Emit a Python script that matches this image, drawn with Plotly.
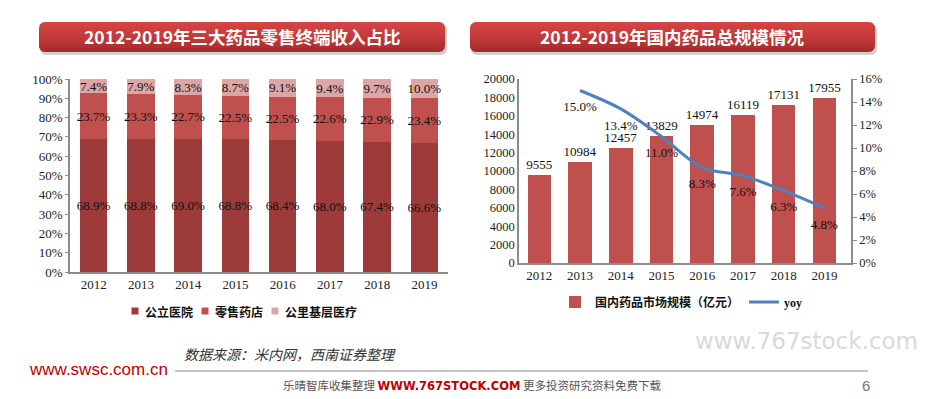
import numpy as np
import plotly.graph_objects as go

W, H = 926, 399
OFF = 8  # page body margin of the html page

# ---------------- data ----------------
years = ["2012", "2013", "2014", "2015", "2016", "2017", "2018", "2019"]
public_hosp = [68.9, 68.8, 69.0, 68.8, 68.4, 68.0, 67.4, 66.6]
retail_pharm = [23.7, 23.3, 22.7, 22.5, 22.5, 22.6, 22.9, 23.4]
primary_care = [7.4, 7.9, 8.3, 8.7, 9.1, 9.4, 9.7, 10.0]

market_size = [9555, 10984, 12457, 13829, 14974, 16119, 17131, 17955]
yoy_years = ["2013", "2014", "2015", "2016", "2017", "2018", "2019"]
yoy = [15.0, 13.4, 11.0, 8.3, 7.6, 6.3, 4.8]

left_title = "2012-2019年三大药品零售终端收入占比"
right_title = "2012-2019年国内药品总规模情况"
series_names = ["公立医院", "零售药店", "公里基层医疗"]
bar_name = "国内药品市场规模（亿元）"
line_name = "yoy"

SERIF = "Liberation Serif, Times New Roman, serif"
CJK = "Noto Sans CJK SC, sans-serif"


def px_x(x):
    return (x - OFF) / W


def px_y(y):
    return 1 - (y - OFF) / H


fig = go.Figure()

# ---------------- left chart ----------------
colors_left = ["#9C3B39", "#C0504D", "#DBA6A5"]
for vals, name, col in zip([public_hosp, retail_pharm, primary_care], series_names, colors_left):
    fig.add_trace(go.Bar(
        x=years, y=[v / 100 for v in vals], name=name,
        marker=dict(color=col, line=dict(width=0)),
        text=[f"{v:.1f}%" for v in vals], texttemplate="%{text}",
        textposition="inside", insidetextanchor="middle", textangle=0,
        constraintext="none",
        textfont=dict(family=SERIF, size=13, color="#111111"),
        xaxis="x", yaxis="y", showlegend=False, hoverinfo="skip",
    ))

# ---------------- right chart ----------------
fig.add_trace(go.Bar(
    x=years, y=market_size, name=bar_name,
    marker=dict(color="#C0504D", line=dict(width=0)),
    text=[str(v) for v in market_size], textposition="outside",
    constraintext="none", cliponaxis=False,
    textfont=dict(family=SERIF, size=13, color="#111111"),
    xaxis="x2", yaxis="y2", legend="legend2", hoverinfo="skip",
))
fig.add_trace(go.Scatter(
    x=yoy_years, y=[v / 100 for v in yoy],
    name=f'<span style="font-family:Liberation Serif">{line_name}</span>',
    mode="lines", line=dict(color="#4F81BD", width=3, shape="spline", smoothing=0.9),
    xaxis="x2", yaxis="y3", legend="legend2", hoverinfo="skip",
))
fig.add_trace(go.Scatter(
    x=yoy_years, y=[v / 100 for v in yoy], mode="markers+text",
    marker=dict(size=16, color="rgba(0,0,0,0)"),
    text=[f"{v:.1f}%" for v in yoy], textposition="bottom center",
    textfont=dict(family=SERIF, size=13, color="#111111"),
    showlegend=False, xaxis="x2", yaxis="y3", hoverinfo="skip", cliponaxis=False,
))

# ---------------- title boxes (decoration) ----------------
def rounded_rect(x0, y0, x1, y1, r, n=8):
    pts = []
    corners = [(x1 - r, y0 + r, -90, 0), (x1 - r, y1 - r, 0, 90),
               (x0 + r, y1 - r, 90, 180), (x0 + r, y0 + r, 180, 270)]
    for cx, cy, a0, a1 in corners:
        for a in np.linspace(np.radians(a0), np.radians(a1), n):
            pts.append((cx + r * np.cos(a), cy + r * np.sin(a)))
    pts.append(pts[0])
    xs, ys = zip(*pts)
    return list(xs), list(ys)


for (x0, x1) in [(39, 445), (470, 875)]:
    sx, sy = rounded_rect(x0 + 1, 24, x1 + 2, 55, 6)
    fig.add_trace(go.Scatter(x=sx, y=sy, mode="lines", fill="toself",
                             fillcolor="rgba(120,120,120,0.35)", line=dict(width=0),
                             xaxis="x5", yaxis="y5", showlegend=False, hoverinfo="skip"))
    bx, by = rounded_rect(x0, 22, x1, 52, 6)
    fig.add_trace(go.Scatter(x=bx, y=by, mode="lines", fill="toself",
                             fillgradient=dict(type="vertical", start=22, stop=52,
                                               colorscale=[[0, "#D44545"], [0.5, "#C43A3A"], [1, "#A32A2A"]]),
                             line=dict(width=0),
                             xaxis="x5", yaxis="y5", showlegend=False, hoverinfo="skip"))

axis_common = dict(showgrid=False, zeroline=False, automargin=False)
fig.update_layout(
    template="none",
    width=W, height=H, margin=dict(l=0, r=0, t=0, b=0, pad=0, autoexpand=False),
    paper_bgcolor="white", plot_bgcolor="rgba(0,0,0,0)",
    barmode="stack", bargap=0.42,
    xaxis=dict(domain=[px_x(70), px_x(448)], type="category", **axis_common,
               showline=True, linecolor="#8C8C8C", linewidth=1.5,
               tickfont=dict(family=SERIF, size=13, color="#222"), ticks=""),
    yaxis=dict(domain=[px_y(272), px_y(79)], range=[0, 1], dtick=0.1, tickformat=".0%",
               **axis_common, showline=True, linecolor="#8C8C8C", linewidth=1.5,
               tickfont=dict(family=SERIF, size=13, color="#222"), ticks="outside",
               ticklen=3, tickcolor="#8C8C8C"),
    xaxis2=dict(domain=[px_x(519), px_x(851)], type="category", **axis_common,
                showline=True, linecolor="#8C8C8C", linewidth=1.5, anchor="y2", ticks="",
                tickfont=dict(family=SERIF, size=13, color="#222")),
    yaxis2=dict(domain=[px_y(263), px_y(79)], range=[0, 20000], dtick=2000, tickformat="d",
                anchor="x2", ticks="",
                **axis_common, showline=True, linecolor="#8C8C8C", linewidth=1.5,
                tickfont=dict(family=SERIF, size=12.5, color="#222")),
    yaxis3=dict(domain=[px_y(263), px_y(79)], range=[0, 0.16], dtick=0.02, tickformat=".0%",
                overlaying="y2", side="right", anchor="x2", **axis_common,
                showline=True, linecolor="#8C8C8C", linewidth=1.5,
                ticks="outside", ticklen=4, tickcolor="#8C8C8C",
                tickfont=dict(family=SERIF, size=12.5, color="#222")),
    xaxis5=dict(domain=[0, 1], range=[OFF, W + OFF], visible=False, anchor="y5",
                fixedrange=True, automargin=False),
    yaxis5=dict(domain=[0, 1], range=[H + OFF, OFF], visible=False, anchor="x5",
                fixedrange=True, automargin=False),
    legend2=dict(orientation="h", x=px_x(555), y=px_y(302), xanchor="left", yanchor="middle",
                 font=dict(family=CJK, size=12, color="#111", weight="bold"),
                 bgcolor="rgba(0,0,0,0)", itemwidth=30, traceorder="normal"),
    showlegend=True,
)

annotations = [
    dict(x=px_x(242), y=px_y(37), text=f"<b>{left_title}</b>",
         font=dict(family=CJK, size=17.5, color="white")),
    dict(x=px_x(672), y=px_y(37), text=f"<b>{right_title}</b>",
         font=dict(family=CJK, size=17.5, color="white")),
    dict(x=px_x(806), y=px_y(341), text="www.767stock.com",
         font=dict(family="DejaVu Sans, sans-serif", size=23, color="#D9D9D9")),
    dict(x=px_x(290), y=px_y(354), text="<i>数据来源：米内网，西南证券整理</i>",
         font=dict(family=CJK, size=14, color="#333")),
    dict(x=px_x(98), y=px_y(369), text="www.swsc.com.cn",
         font=dict(family="Liberation Sans, Arial, sans-serif", size=17, color="#C00000")),
    dict(x=px_x(472), y=px_y(385),
         text='乐晴智库收集整理 <b><span style="color:#C00000;font-family:DejaVu Sans">WWW.767STOCK.COM</span></b> 更多投资研究资料免费下载',
         font=dict(family=CJK, size=11.5, color="#555")),
    dict(x=px_x(866), y=px_y(385), text="6",
         font=dict(family="Liberation Sans, Arial, sans-serif", size=15, color="#777")),
]

# manual legend for the left chart (compact like the reference)
legend_marker_x = [135, 205, 275]
for name, col, mx in zip(series_names, colors_left, legend_marker_x):
    fig.add_shape(type="rect", xref="paper", yref="paper",
                  x0=px_x(mx - 3.5), x1=px_x(mx + 3.5), y0=px_y(314.5), y1=px_y(307.5),
                  fillcolor=col, line=dict(width=0))
    annotations.append(dict(x=px_x(mx + 8), y=px_y(311), text=f"<b>{name}</b>",
                            xanchor="left",
                            font=dict(family=CJK, size=12, color="#111")))

for a in annotations:
    a.setdefault("xanchor", "center")
    a.update(xref="paper", yref="paper", showarrow=False, yanchor="middle")
fig.update_layout(annotations=annotations)

fig.add_shape(type="line", xref="paper", yref="paper",
              x0=px_x(175), x1=px_x(868), y0=px_y(371), y1=px_y(371),
              line=dict(color="#B0B0B0", width=1.5))

fig.write_html("out.html")
